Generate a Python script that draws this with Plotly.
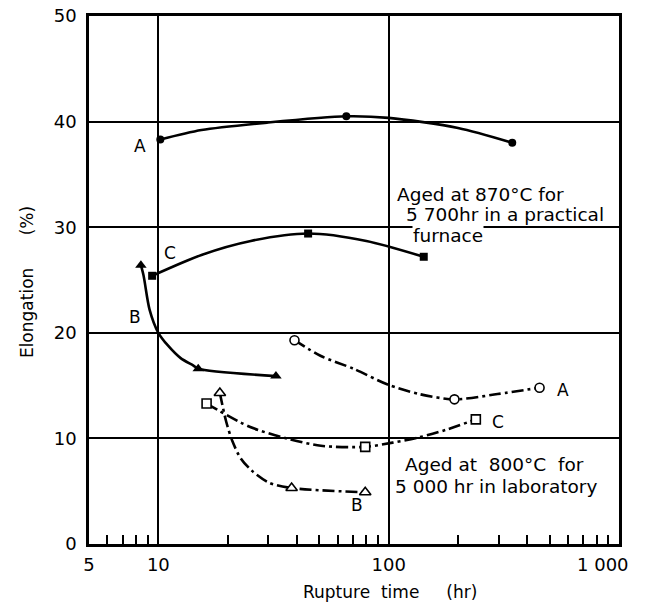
import plotly.graph_objects as go
import math

# ---- data: aged at 870°C for 5 700 hr in a practical furnace (filled markers, solid curves)
fA_x = [10.2, 65.5, 344]
fA_y = [38.3, 40.5, 38.0]
fA_curve_x = [10.2, 15.4, 29.6, 65.5, 100, 200, 344]
fA_curve_y = [38.3, 39.2, 39.9, 40.5, 40.35, 39.4, 38.0]

fC_x = [9.4, 44.7, 142]
fC_y = [25.4, 29.4, 27.2]
fC_curve_x = [9.4, 15.5, 25.2, 44.7, 80, 142]
fC_curve_y = [25.4, 27.4, 28.7, 29.4, 28.7, 27.2]

fB_x = [8.4, 14.9, 32.4]
fB_y = [26.4, 16.6, 15.9]
fB_curve_x = [8.4, 8.63, 9.16, 10.0, 11.0, 12.5, 14.2, 14.9, 32.4]
fB_curve_y = [26.4, 25.4, 22.2, 20.0, 18.8, 17.6, 16.9, 16.6, 15.9]

# ---- data: aged at 800°C for 5 000 hr in laboratory (open markers, dash-dot curves)
oA_x = [39.0, 193, 452]
oA_y = [19.3, 13.7, 14.8]
oA_curve_x = [39.0, 50.8, 70.3, 99, 135.6, 193, 297, 452]
oA_curve_y = [19.3, 17.8, 16.6, 15.1, 14.2, 13.7, 14.2, 14.8]

oC_x = [16.2, 79.1, 239]
oC_y = [13.3, 9.2, 11.8]
oC_curve_x = [16.2, 24.9, 36.1, 50.8, 79.1, 104, 135.6, 176.6, 239]
oC_curve_y = [13.3, 11.1, 10.0, 9.3, 9.2, 9.6, 10.1, 10.8, 11.8]

oB_x = [18.5, 37.9, 79.1]
oB_y = [14.3, 5.3, 4.9]
oB_curve_x = [18.5, 19.7, 21.0, 22.8, 25.6, 30.3, 37.9, 79.1]
oB_curve_y = [14.3, 11.6, 9.7, 8.1, 6.9, 5.8, 5.3, 4.9]

# curve labels (text, x, y)
label_text = ["A", "C", "B", "A", "C", "B"]
label_x = [8.3, 11.25, 7.9, 571, 297, 73]
label_y = [37.7, 27.6, 21.5, 14.6, 11.6, 3.7]

# axis ticks
x_tickvals = [5, 10, 100, 1000]
x_ticktext = ["5", "10", "100", "1 000"]
x_minor = [6, 7, 8, 9, 20, 30, 40, 50, 60, 70, 80, 90,
           200, 300, 400, 500, 600, 700, 800, 900]
y_tickvals = [0, 10, 20, 30, 40, 50]

FONT = "DejaVu Sans"
DASHDOT = "12px,4px,3px,4px"

fig = go.Figure()

def curve(x, y, dash):
    fig.add_trace(go.Scatter(x=x, y=y, mode="lines",
                             line=dict(color="black", width=2.6, shape="spline",
                                       smoothing=0.8, dash=dash),
                             hoverinfo="skip", showlegend=False))

def marks(x, y, symbol, size, filled):
    fig.add_trace(go.Scatter(x=x, y=y, mode="markers",
                             marker=dict(symbol=symbol, size=size,
                                         color="black" if filled else "white",
                                         line=dict(color="black", width=0 if filled else 1.6)),
                             showlegend=False))

curve(fA_curve_x, fA_curve_y, "solid")
curve(fC_curve_x, fC_curve_y, "solid")
curve(fB_curve_x, fB_curve_y, "solid")
curve(oA_curve_x, oA_curve_y, DASHDOT)
curve(oC_curve_x, oC_curve_y, DASHDOT)
curve(oB_curve_x, oB_curve_y, DASHDOT)

marks(fA_x, fA_y, "circle", 8, True)
marks(fC_x, fC_y, "square", 8, True)
marks(fB_x, fB_y, "triangle-up", 10, True)
marks(oA_x, oA_y, "circle", 9, False)
marks(oC_x, oC_y, "square", 9, False)
marks(oB_x, oB_y, "triangle-up", 10, False)

annotations = []
for t, x, y in zip(label_text, label_x, label_y):
    annotations.append(dict(text=t, x=math.log10(x), y=y, xref="x", yref="y",
                            showarrow=False, font=dict(family=FONT, size=17, color="black")))

def note(text, x, y, bg=None):
    d = dict(text=text, x=math.log10(x), y=y, xref="x", yref="y", xanchor="left",
             showarrow=False, font=dict(family=FONT, size=18.5, color="black"))
    if bg:
        d["bgcolor"] = bg
        d["borderpad"] = 0
    annotations.append(d)

note("Aged at 870°C for", 107, 33.1)
note("5 700hr in a practical", 117, 31.2)
note("furnace", 126.5, 29.2, bg="white")
note("Aged at\u00a0\u00a0800°C\u00a0\u00a0for", 115, 7.5)
note("5 000\u00a0hr in laboratory", 104, 5.4)

# last x tick label sits left of its tick (it would overflow the page otherwise)
annotations.append(dict(text=x_ticktext[-1], x=math.log10(x_tickvals[-1]), xref="x",
                        y=0, yref="paper", xanchor="right", yanchor="middle",
                        xshift=12, yshift=-20, showarrow=False,
                        font=dict(family=FONT, size=18, color="black")))

annotations.append(dict(text="Elongation" + "\u00a0" * 6 + "(%)", textangle=-90,
                        x=-0.117, y=0.496, xref="paper", yref="paper",
                        xanchor="center", yanchor="middle", showarrow=False,
                        font=dict(family=FONT, size=17, color="black")))
annotations.append(dict(text="Rupture\u00a0\u00a0time" + "\u00a0" * 5 + "(hr)",
                        x=0.568, y=-0.091, xref="paper", yref="paper",
                        xanchor="center", yanchor="middle", showarrow=False,
                        font=dict(family=FONT, size=17, color="black")))

fig.update_layout(
    width=646, height=606,
    margin=dict(l=89, r=27, t=16, b=62, autoexpand=False),
    paper_bgcolor="white", plot_bgcolor="white",
    font=dict(family=FONT, size=18, color="black"),
    showlegend=False,
    annotations=annotations,
    xaxis=dict(type="log", range=[math.log10(5), math.log10(1000)],
               tickmode="array", tickvals=x_tickvals[:-1], ticktext=x_ticktext[:-1],
               ticks="", showgrid=True, gridcolor="black", gridwidth=1.5,
               showline=True, linecolor="black", linewidth=2.5, mirror=True,
               zeroline=False, ticklabelstandoff=3,
               automargin=False,
               tickfont=dict(family=FONT, size=18, color="black"),
               minor=dict(tickmode="array", tickvals=x_minor, ticks="inside",
                          ticklen=9, tickwidth=1.5, tickcolor="black", showgrid=False)),
    yaxis=dict(range=[0, 50], tickmode="array", tickvals=y_tickvals,
               ticks="", showgrid=True, gridcolor="black", gridwidth=1.5,
               showline=True, linecolor="black", linewidth=2.5, mirror=True,
               zeroline=False, ticklabelstandoff=6, automargin=False,
               tickfont=dict(family=FONT, size=18, color="black")),
)

fig.write_html("out.html")
